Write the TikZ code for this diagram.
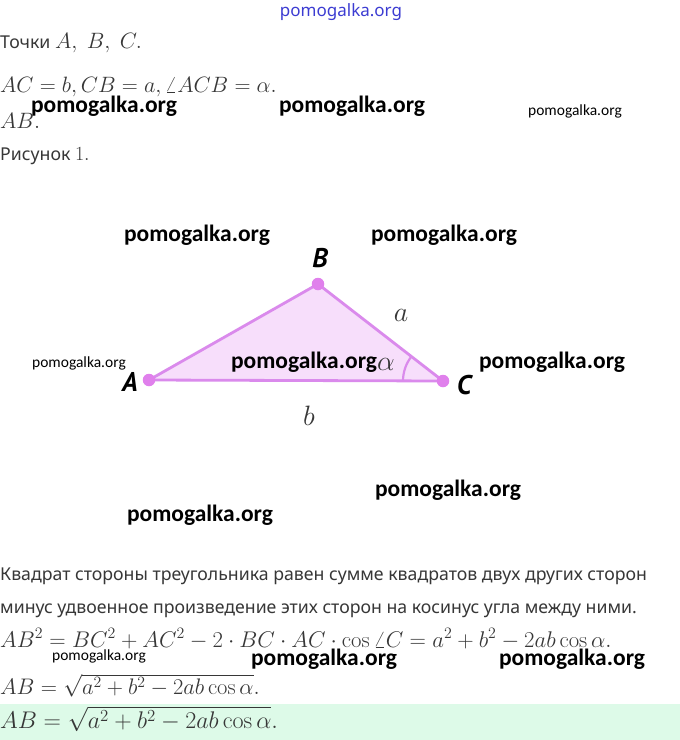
\RequirePackage{fix-cm}
\documentclass[tikz,border=0pt]{standalone}
\usepackage[no-math]{fontspec}
\setmainfont{Noto Sans}
\newfontfamily\wmfont{Carlito}
\newfontfamily\lblfont{PT Sans}
\definecolor{txt}{RGB}{55,55,55}
\definecolor{tri}{RGB}{218,138,236}
\definecolor{trifill}{RGB}{247,222,251}
\definecolor{dotc}{RGB}{224,128,236}
\definecolor{band}{RGB}{221,250,232}
\definecolor{wmblue}{RGB}{60,60,210}
\begin{document}
\begin{tikzpicture}[x=1pt,y=-1pt,
  wmbig/.style={font=\wmfont\bfseries\fontsize{23.5}{25}\selectfont,text=black,inner sep=0pt},
  wmsmall/.style={font=\wmfont\fontsize{15.5}{17}\selectfont,text=black,inner sep=0pt},
  para/.style={anchor=base west,inner sep=0pt,text=txt,font=\fontsize{17.7}{20}\selectfont},
  formula/.style={anchor=base west,inner sep=0pt,text=txt,font=\fontsize{22.2}{26}\selectfont},
  vlabel/.style={font=\lblfont\bfseries\itshape\fontsize{27}{30}\selectfont,text=black,inner sep=0pt},
  slabel/.style={font=\fontsize{28}{30}\selectfont,text=txt,inner sep=0pt},
  dot/.style={circle,fill=dotc,inner sep=0pt,minimum size=12.5pt}]
\useasboundingbox (0,0) rectangle (680,740);
\fill[white] (0,0) rectangle (680,740);
% green band
\fill[band] (0,704) rectangle (680,740);
% top watermark
\node[font=\fontsize{17}{19}\selectfont,text=wmblue,inner sep=0pt] (wtop) at (341,12) {pomogalka.org};
% top text
\node[para] (t1) at (0,48) {Точки {\fontsize{22.2}{26}\selectfont$A,\ B,\ C.$}};
\node[formula] (t2) at (0,92) {$AC=b, CB=a, \angle ACB=\alpha.$};
\node[formula] (t3) at (0,128) {$AB.$};
\node[para] (t4) at (0,160) {Рисунок {\fontsize{20}{24}\selectfont$1.$}};
% triangle
\coordinate (A) at (149,380);
\coordinate (B) at (318,284);
\coordinate (C) at (443,381);
\fill[trifill] (A) -- (B) -- (C) -- cycle;
\draw[tri,line width=2.8pt,line join=round] (A) -- (B) -- (C) -- cycle;
\draw[tri,line width=2.2pt] ([shift={(180:40)}]C) arc[start angle=180,end angle=218,radius=40];
\node[dot] (dA) at (A) {};
\node[dot] (dB) at (B) {};
\node[dot] (dC) at (C) {};
\node[vlabel] (lA) at (130,382) {A};
\node[vlabel] (lB) at (320,258) {B};
\node[vlabel] (lC) at (464,385) {C};
\node[slabel] (la) at (401,315) {$a$};
\node[slabel] (lb) at (309,416) {$b$};
\node[slabel] (lal) at (386,364) {$\alpha$};
% watermarks
\node[wmbig] (w1) at (104,106) {pomogalka.org};
\node[wmbig] (w2) at (352,106) {pomogalka.org};
\node[wmsmall] (w3) at (575,111) {pomogalka.org};
\node[wmbig] (w4) at (197,235) {pomogalka.org};
\node[wmbig] (w5) at (444,235) {pomogalka.org};
\node[wmsmall] (w6) at (79,363) {pomogalka.org};
\node[wmbig] (w7) at (304,362) {pomogalka.org};
\node[wmbig] (w8) at (552,362) {pomogalka.org};
\node[wmbig] (w9) at (448,490) {pomogalka.org};
\node[wmbig] (w10) at (200,515) {pomogalka.org};
% bottom text
\node[para] (p1) at (0,580) {Квадрат стороны треугольника равен сумме квадратов двух других сторон};
\node[para] (p2) at (0,613) {минус удвоенное произведение этих сторон на косинус угла между ними.};
\node[formula,font=\fontsize{22.7}{26}\selectfont] (f1) at (0,647) {$AB^2=BC^2+AC^2-2\cdot BC\cdot AC\cdot\cos\angle C=a^2+b^2-2ab\cos\alpha.$};
\node[wmsmall] (w11) at (99,656) {pomogalka.org};
\node[wmbig] (w12) at (324,659) {pomogalka.org};
\node[wmbig] (w13) at (572,659) {pomogalka.org};
\node[formula,font=\fontsize{22.5}{26}\selectfont] (f2) at (0,694) {$AB=\sqrt{a^2+b^2-2ab\cos\alpha}.$};
\node[formula,font=\fontsize{24.1}{26}\selectfont] (f3) at (0,728) {$AB=\sqrt{a^2+b^2-2ab\cos\alpha}.$};
\end{tikzpicture}
\end{document}
